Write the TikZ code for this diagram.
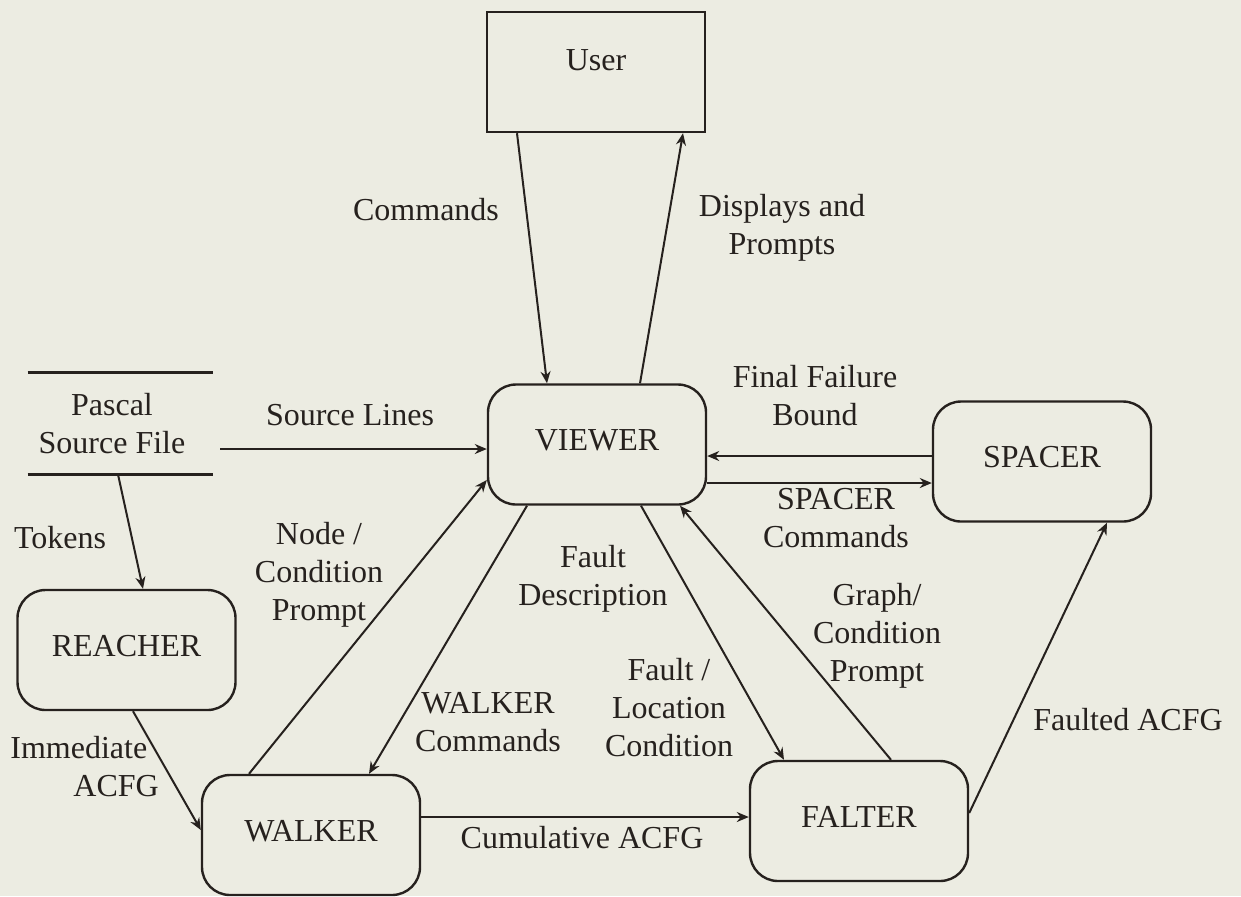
\documentclass[tikz,border=0pt]{standalone}
\usepackage{fontspec}
\setmainfont{Liberation Serif}
\usetikzlibrary{arrows.meta}
\definecolor{paper}{RGB}{236,236,226}
\definecolor{ink}{RGB}{38,33,30}
\begin{document}
\begin{tikzpicture}[x=0.5pt,y=-0.5pt,
  every node/.style={font=\fontsize{16}{19}\selectfont, text=ink},
  proc/.style={draw=ink, line width=1.2pt, rounded corners=14pt, minimum width=109pt, minimum height=60pt, inner sep=0pt, text height=11pt, text depth=5pt},
  ext/.style={draw=ink, line width=1.2pt, minimum width=109pt, minimum height=60pt, inner sep=0pt, text height=11pt, text depth=13pt},
  lbl/.style={align=center, inner sep=0pt},
  store/.style={draw=ink, line width=1.2pt},
  flow/.style={draw=ink, line width=1pt, -{Stealth[length=6pt,width=5pt]}},
]
\fill[paper] (0,0) rectangle (1241,896);
\useasboundingbox (0,0) rectangle (1241,896);

% boxes
\node[ext]  (user)    at (596,72)    {User};
\node[proc] (viewer)  at (597,444.5) {VIEWER};
\node[proc] (spacer)  at (1042,461.5) {SPACER};
\node[proc] (reacher) at (126.5,650) {REACHER};
\node[proc] (walker)  at (311,835)   {WALKER};
\node[proc] (falter)  at (859,821)   {FALTER};

% data store
\node[lbl, minimum width=92.5pt, minimum height=50.5pt] (pascal) at (112,423.5) {Pascal\\Source File};
\draw[store] ([xshift=4.25pt]pascal.north west) -- ([xshift=4.25pt]pascal.north east);
\draw[store] ([xshift=4.25pt]pascal.south west) -- ([xshift=4.25pt]pascal.south east);

% connectors
\draw[flow] ([xshift=-39.5pt]user.south) -- ([xshift=-25pt]viewer.north);
\draw[flow] ([xshift=21.5pt]viewer.north) -- ([xshift=43.5pt]user.south);
\draw[flow] ([xshift=7.75pt,yshift=-12.75pt]pascal.east) -- ([yshift=-2.25pt]viewer.west);
\draw[flow] ([xshift=3pt]pascal.south) -- ([xshift=8.25pt]reacher.north);
\draw[flow] ([xshift=3.25pt]reacher.south) -- ([yshift=2.5pt]walker.west);
\draw[flow] ([xshift=-31pt]walker.north) -- ([yshift=-17.75pt]viewer.west);
\draw[flow] ([xshift=-35pt]viewer.south) -- ([xshift=29pt]walker.north);
\draw[flow] ([xshift=22pt]viewer.south) -- ([xshift=-37.5pt]falter.north);
\draw[flow] ([xshift=16pt]falter.north) -- ([xshift=41.5pt]viewer.south);
\draw[flow] ([yshift=9pt]walker.east) -- ([yshift=2pt]falter.west);
\draw[flow] ([yshift=4pt]falter.east) -- ([xshift=32.5pt]spacer.south);
\draw[flow] ([yshift=2.75pt]spacer.west) -- ([yshift=-5.75pt]viewer.east);
\draw[flow] ([yshift=-19.25pt]viewer.east) -- ([yshift=-10.75pt]spacer.west);

% labels
\node[lbl] (lcmd)   at (426,210)   {Commands};
\node[lbl] (ldisp)  at (782,227.5) {Displays and\\Prompts};
\node[lbl] (lfinal) at (815,396)   {Final Failure\\Bound};
\node[lbl] (lspc)   at (836,518.5) {SPACER\\Commands};
\node[lbl] (lsrc)   at (350,415)   {Source Lines};
\node[lbl] (ltok)   at (60,538)    {Tokens};
\node[lbl] (lnode)  at (319,575)   {Node /\\Condition\\Prompt};
\node[lbl] (lfdesc) at (593,579)   {Fault\\Description};
\node[lbl] (lwcmd)  at (488,722.5) {WALKER\\Commands};
\node[lbl] (lfloc)  at (669,707.5) {Fault /\\Location\\Condition};
\node[lbl] (lgraph) at (877,635.5) {Graph/\\Condition\\Prompt};
\node[lbl] (lfacfg) at (1128,720)  {Faulted ACFG};
\node[lbl, align=left, anchor=west] (limm) at (10,766.5) {Immediate\\\hspace*{31.5pt}ACFG};
\node[lbl] (lcum)   at (582,838)   {Cumulative ACFG};
\end{tikzpicture}
\end{document}
